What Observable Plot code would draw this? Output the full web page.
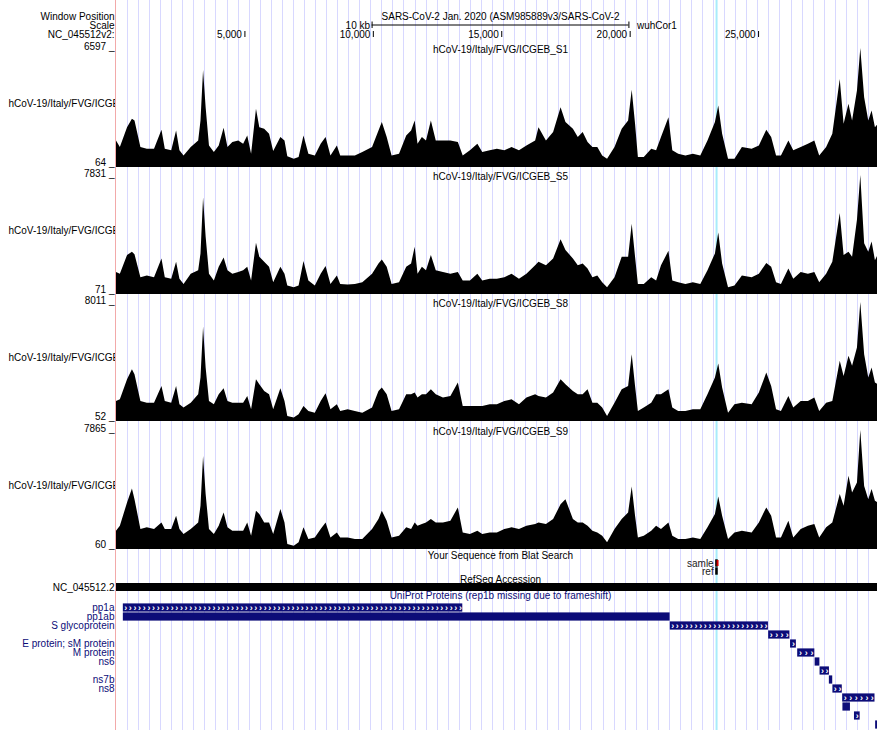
<!DOCTYPE html>
<html><head><meta charset="utf-8">
<script src="https://cdn.jsdelivr.net/npm/d3@7"></script>
<script src="https://cdn.jsdelivr.net/npm/@observablehq/plot@0.6"></script>
<style>
html,body{margin:0;padding:0;background:#fff;}
#chart{position:relative;width:877px;height:730px;overflow:hidden;background:#fff;}
#chart svg{max-width:none !important;}
</style></head><body><div id="chart"></div>
<script>
// ---------- data ----------
const genomeLength = 29903;
const assemblyTitle = "SARS-CoV-2 Jan. 2020 (ASM985889v3/SARS-CoV-2";
const assemblyName = "wuhCor1";
const headerLabels = ["Window Position", "Scale", "NC_045512v2:"];
const positionTicks = [5000, 10000, 15000, 20000, 25000];
const scaleBarLabel = "10 kb";
const scaleBarLength = 10000;
const highlightPos = 23403;

const trackNames = ["hCoV-19/Italy/FVG/ICGEB_S1", "hCoV-19/Italy/FVG/ICGEB_S5", "hCoV-19/Italy/FVG/ICGEB_S8", "hCoV-19/Italy/FVG/ICGEB_S9"];
const trackMin = [64, 71, 52, 60];
const trackMax = [6597, 7831, 8011, 7865];

const coveragePos = [0,150,430,620,720,950,1200,1480,1770,1900,
 2150,2340,2470,2630,2910,3200,3290,3390,3490,3620,
 3810,4000,4190,4340,4530,4760,4950,5110,5260,5450,
 5580,5770,5960,6120,6400,6560,6670,6920,7110,7300,
 7490,7740,7970,8160,8350,8600,8730,9020,9300,9590,
 9970,10220,10350,10540,10730,11020,11300,11490,11630,11740,
 11910,12070,12260,12450,12730,13020,13310,13500,13780,14070,
 14260,14550,14830,15120,15400,15690,15980,16320,16450,16740,
 17020,17310,17500,17790,17980,18170,18360,18550,18740,18930,
 19120,19410,19690,19940,20080,20210,20320,20550,20840,21030,
 21220,21510,21660,21890,22170,22460,22750,23030,23320,23450,
 23600,23830,24080,24370,24750,25030,25320,25510,25700,25890,
 26180,26370,26660,26940,27190,27380,27650,27890,28180,28330,
 28520,28660,28850,28980,29130,29290,29420,29550,29670];

const coverageS1 = [1520,1160,2250,2710,2620,1160,1070,1070,2110,1070,
 980,2070,980,700,1160,1520,2620,5390,3350,1250,
 890,1250,2220,1160,1430,1520,1340,1800,790,3260,
 2250,2160,1890,940,1710,1520,650,520,610,1800,
 790,700,1340,1710,700,1250,700,700,700,890,
 1160,2070,2530,1710,700,790,1800,2070,2620,1340,
 1710,1520,2620,1520,1520,1520,1430,700,980,1340,
 890,980,1070,980,1160,980,1250,1520,2250,1520,
 1980,3350,2530,2160,1710,1980,1430,1160,1160,700,
 520,1160,2160,2620,4300,2440,610,610,1070,980,
 1710,2800,980,790,700,790,700,1520,2530,3440,
 1890,520,520,1160,1070,1250,2110,1710,700,700,
 1520,980,1160,1340,1520,700,1160,1890,4900,2440,
 3530,2620,4260,6597,3900,2620,3170,2250,2440];

const coverageS5 = [1500,1390,2610,2830,2670,1170,1280,1170,2390,1170,
 1060,2170,1060,730,1390,1620,2720,6360,3820,1390,
 950,1840,2450,1620,1390,1500,1620,1840,950,3420,
 2500,2170,1840,840,1840,1390,620,510,620,2230,
 950,620,1390,1900,730,1280,730,690,730,840,
 1390,2060,2320,1840,730,840,1840,2060,3160,1390,
 1840,1620,2610,1620,1500,1390,1500,950,950,1390,
 950,1060,1060,1170,1390,1060,1390,1950,2170,1950,
 2390,3640,2940,2390,1950,2060,1730,1170,1280,840,
 510,1170,2500,2500,4660,2500,730,730,1170,950,
 1950,2890,950,840,730,840,730,1620,2720,4080,
 2060,510,620,1280,1170,1390,2100,1840,840,730,
 1730,1060,1500,1390,1500,840,1390,2170,5360,2610,
 2830,2500,4920,7831,3380,2830,3490,2280,2670];

const coverageS8 = [1390,1500,2850,3520,3180,1390,1280,1280,2400,1390,
 1280,2400,1170,950,1280,1840,2960,6360,3630,1390,
 1170,1840,2240,1390,1280,1280,1280,1730,840,2850,
 2510,2060,1840,840,2240,1390,390,280,500,1060,
 720,610,1390,1910,840,1170,720,840,720,610,
 950,2060,2290,1840,720,840,1840,1840,1950,1620,
 1840,1840,2180,1840,1620,1730,2620,1060,1060,1060,
 1060,1170,1170,1390,1500,1170,1620,1840,1730,1620,
 1950,2850,2510,2060,1840,1840,2180,1280,1280,950,
 390,1280,2180,2400,4520,2400,720,950,1280,1840,
 1840,2180,950,720,720,840,840,1840,2960,3900,
 2290,610,1170,1280,1170,1950,3290,2400,840,720,
 1730,950,1390,1390,1620,720,1280,1390,4080,3070,
 4410,3740,4970,8011,4520,2960,3630,2620,2510];

const coverageS9 = [1260,1590,3110,4030,3330,1370,1480,1370,1800,1370,
 1370,2240,1370,1040,1370,1800,2890,6160,3660,1370,
 1040,1590,2460,1480,1260,1260,1260,1800,930,2570,
 2350,1800,1800,1040,2680,1800,390,280,500,1480,
 710,820,1370,1800,820,1150,820,820,710,710,
 1370,2020,2570,1910,820,930,1480,1370,1800,1590,
 1700,1800,2020,1800,1800,1910,2790,1150,1040,1260,
 1040,1150,1150,1370,1480,1370,1590,1700,1800,1700,
 2020,3000,3330,2020,1800,1800,1590,1260,1150,930,
 500,1370,2020,2460,4160,2240,820,930,1260,1590,
 1370,1800,930,710,710,820,710,1480,2350,3500,
 2240,710,1150,1260,1150,1800,2790,2240,820,820,
 1910,820,1370,1590,1700,820,1480,1800,3660,2890,
 4860,3770,4420,7865,4200,3330,3990,3220,3110];

const sectionTitles = ["Your Sequence from Blat Search", "RefSeq Accession", "UniProt Proteins (rep1b missing due to frameshift)"];
const blatNames = ["samle", "ref"];
const blatStarts = [23330, 23330];
const blatEnds = [23430, 23430];
const blatMismatch = [23403];
const refseqName = "NC_045512.2";

const proteinNames = ["pp1a","pp1ab","S","ORF3a","E","M","ORF6","ORF7a","ORF7b","ORF8","N","ORF9b","ORF9c","ORF10"];
const proteinLabels = ["pp1a","pp1ab","S glycoprotein","","E protein; sM protein","M protein","ns6","","ns7b","ns8","","","",""];
const proteinStarts = [266,266,21563,25393,26245,26523,27202,27394,27756,27894,28274,28284,28734,29558];
const proteinEnds = [13483,21555,25384,26220,26472,27191,27387,27759,27887,28259,29533,28577,28955,29674];
const proteinChevrons = [true,false,true,true,true,true,false,true,false,true,true,false,true,false];

// ---------- styling ----------
const FONT = "'Liberation Sans', Arial, Helvetica, sans-serif";
const NAVY = "#0c0c78";
const W = 884, ML = 116;
const baseStyle = {background: "transparent", overflow: "visible", fontFamily: FONT, fontSize: "10px", color: "black", maxWidth: "none"};
const xScale = {domain: [0, genomeLength], axis: null};
const chart = document.getElementById("chart");
function place(svg, top) {
  svg.style.position = "absolute";
  svg.style.left = "0px";
  svg.style.top = top + "px";
  svg.style.maxWidth = "none";
  chart.appendChild(svg);
  return svg;
}

// background: guidelines, highlight, left border
const guideStep = 430.6;
const guides = d3.range(428, genomeLength, guideStep);
place(Plot.plot({
  width: W, height: 730, marginLeft: ML, marginRight: 0, marginTop: 0, marginBottom: 0,
  style: baseStyle, x: xScale,
  marks: [
    Plot.ruleX(guides, {x: d => d, stroke: "#d8d8ff", shapeRendering: "crispEdges"}),
    Plot.ruleX([highlightPos], {x: d => d, stroke: "#a8ecfb", strokeWidth: 2, dx: -1}),
    Plot.ruleX([0], {x: d => d, stroke: "#f2a9a9", dx: -1, shapeRendering: "crispEdges"})
  ]
}), 0);

// header
const headerRows = ["r1", "r2", "r3"];
const genomeMid = genomeLength / 2;
const scaleBar = [genomeMid - scaleBarLength / 2, genomeMid + scaleBarLength / 2];
place(Plot.plot({
  width: W, height: 39.5, marginLeft: ML, marginRight: 0, marginTop: 10.5, marginBottom: 0,
  style: baseStyle, x: xScale,
  y: {type: "band", domain: headerRows, padding: 0, axis: null},
  marks: [
    Plot.text(headerLabels, {y: (d, i) => headerRows[i], text: d => d, frameAnchor: "left", dx: -2, textAnchor: "end"}),
    Plot.text([assemblyTitle], {y: () => "r1", text: d => d}),
    Plot.ruleY(["r2"], {y: d => d, x1: () => scaleBar[0], x2: () => scaleBar[1], stroke: "black", dy: -1}),
    Plot.tickX(scaleBar, {x: d => d, y: () => "r2", stroke: "black", insetTop: 0.5, insetBottom: 2}),
    Plot.text([scaleBar[0]], {x: d => d, y: () => "r2", text: () => scaleBarLabel, textAnchor: "end", dx: -2}),
    Plot.text([scaleBar[1]], {x: d => d, y: () => "r2", text: () => assemblyName, textAnchor: "start", dx: 8}),
    Plot.text(positionTicks, {x: d => d, y: () => "r3", text: d => d3.format(",")(d), textAnchor: "end", dx: -3}),
    Plot.tickX(positionTicks, {x: d => d, y: () => "r3", stroke: "black", insetTop: 1, insetBottom: 2})
  ]
}), 0);

// coverage tracks
const coverage = [coverageS1, coverageS5, coverageS8, coverageS9];
const trackTops = [39.5, 167, 294, 422];
const trackSvgs = [];
coverage.forEach((vals, i) => {
  const data = coveragePos.map((p, j) => ({pos: p, value: vals[j]}));
  const svg = Plot.plot({
    width: W, height: 127, marginLeft: ML, marginRight: 0, marginTop: 8, marginBottom: 0,
    style: baseStyle, x: xScale,
    y: {domain: [trackMin[i], trackMax[i]], axis: null},
    marks: [
      Plot.areaY(data, {x: "pos", y1: () => trackMin[i], y2: "value", fill: "black"}),
      Plot.text([trackNames[i]], {text: d => d, frameAnchor: "top", dy: -2.5}),
      Plot.text([trackMax[i]], {y: d => d, text: d => `${d} _`, frameAnchor: "left", dx: -2, dy: 1, textAnchor: "end", lineAnchor: "bottom"}),
      Plot.text([trackMin[i]], {y: d => d, text: d => `${d} _`, frameAnchor: "left", dx: -2, dy: -2, textAnchor: "end", lineAnchor: "bottom"}),
      Plot.text([trackNames[i]], {text: d => d, frameAnchor: "left", dx: -108, dy: -4, textAnchor: "start"})
    ]
  });
  place(svg, trackTops[i]);
  trackSvgs.push([svg, trackNames[i]]);
});

// blat + refseq + uniprot title
const lowRows = ["t0", "samle", "ref", "t1", refseqName, "t2"];
const blat = blatNames.map((n, i) => ({name: n, start: blatStarts[i], end: blatEnds[i]}));
place(Plot.plot({
  width: W, height: 52, marginLeft: ML, marginRight: 0, marginTop: 0, marginBottom: 0,
  style: baseStyle, x: xScale,
  y: {type: "band", domain: lowRows, padding: 0, axis: null},
  marks: [
    Plot.text(sectionTitles, {y: (d, i) => ["t0", "t1", "t2"][i], text: d => d, fill: (d, i) => i === 2 ? NAVY : "black"}),
    Plot.barX(blat, {x1: "start", x2: "end", y: "name", fill: "black", insetTop: 0.3, insetBottom: 0.3}),
    Plot.tickX(blatMismatch, {x: d => d, y: () => "samle", stroke: "#d40000", strokeWidth: 2, insetTop: 1, insetBottom: 1}),
    Plot.text(blat, {x: "start", y: "name", text: "name", textAnchor: "end", dx: -2, fill: "#222"}),
    Plot.barX([refseqName], {x1: () => 0, x2: () => genomeLength, y: d => d, fill: "black"}),
    Plot.text([refseqName], {y: d => d, text: d => d, frameAnchor: "left", dx: -2, textAnchor: "end"})
  ]
}), 549);

// proteins
const proteins = proteinNames.map((n, i) => ({name: n, label: proteinLabels[i], start: proteinStarts[i], end: proteinEnds[i], row: i, chev: proteinChevrons[i]}));
const chevStep = 180;
const chevrons = proteins.filter(p => p.chev).flatMap(p => {
  const n = Math.max(1, Math.floor((p.end - p.start) / chevStep));
  const step = (p.end - p.start) / n;
  return d3.range(n).map(k => ({pos: p.start + step * (k + 0.5), row: p.row}));
});
place(Plot.plot({
  width: W, height: 129, marginLeft: ML, marginRight: 0, marginTop: 0, marginBottom: 0,
  style: baseStyle, x: xScale,
  y: {type: "band", domain: d3.range(proteinNames.length), padding: 0, axis: null},
  marks: [
    Plot.barX(proteins, {x1: "start", x2: "end", y: "row", fill: NAVY, insetTop: 0.4, insetBottom: 0.4}),
    Plot.text(chevrons, {x: "pos", y: "row", text: () => "›", fill: "white", fontSize: 9, fontWeight: "bold"}),
    Plot.text(proteins.filter(p => p.label), {y: "row", text: "label", frameAnchor: "left", dx: -2, textAnchor: "end", fill: NAVY})
  ]
}), 601);

// clip the left-hand track labels at the label column edge
let clipId = 0;
const NS = "http://www.w3.org/2000/svg";
trackSvgs.forEach(([svg, name]) => {
  const box = svg.getBoundingClientRect();
  svg.querySelectorAll("text").forEach(t => {
    if (t.textContent !== name) return;
    const r = t.getBoundingClientRect();
    if (r.left - box.left > 60) return;
    const m = t.getCTM();
    const limit = 115 - m.e;
    let defs = svg.querySelector("defs");
    if (!defs) { defs = document.createElementNS(NS, "defs"); svg.insertBefore(defs, svg.firstChild); }
    const cp = document.createElementNS(NS, "clipPath");
    const id = "lblclip" + (clipId++);
    cp.setAttribute("id", id);
    const rect = document.createElementNS(NS, "rect");
    rect.setAttribute("x", -1000); rect.setAttribute("y", -1000);
    rect.setAttribute("width", 1000 + limit); rect.setAttribute("height", 2000);
    cp.appendChild(rect); defs.appendChild(cp);
    t.setAttribute("clip-path", `url(#${id})`);
  });
});
</script></body></html>
